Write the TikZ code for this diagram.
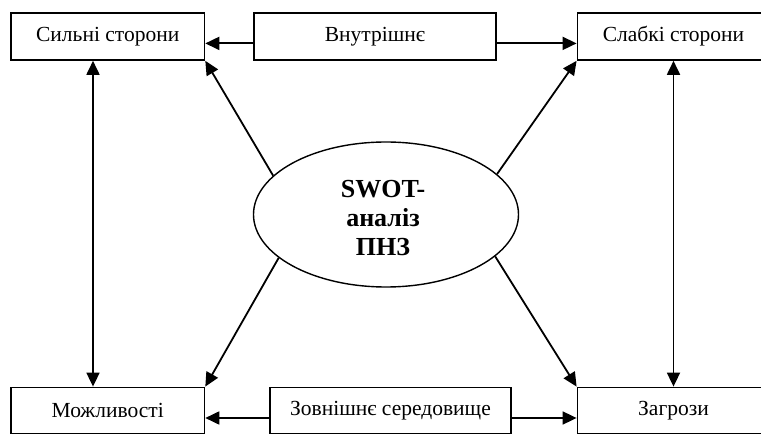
\documentclass[tikz,border=0pt]{standalone}
\usepackage{fontspec}
\setmainfont{Liberation Serif}
\usetikzlibrary{arrows.meta,shapes.geometric}
\begin{document}
\begin{tikzpicture}[x=1pt,y=-1pt,
  box/.style={draw,line width=1.8pt,minimum width=#1,minimum height=47pt,inner sep=0pt,
    font=\fontsize{21.5}{24}\selectfont},
  conn/.style={line width=1.8pt,-{Triangle[length=14pt,width=13pt]}},
  dconn/.style={line width=1.8pt,{Triangle[length=14pt,width=13pt]}-{Triangle[length=14pt,width=13pt]}}]
\useasboundingbox (0,0) rectangle (761,435);
\node[box=193.4pt] (S) at (107.7,36.4) {Сильні сторони};
\node[box=242pt] (Vn) at (375,36.4) {Внутрішнє};
\node[box=192pt] (W) at (673.5,36.4) {Слабкі сторони};
\node[box=193.4pt,minimum height=46pt] (M) at (107.7,410.5) {Можливості};
\node[box=241pt,minimum height=46pt] (Z) at (390.5,410.5) {Зовнішнє середовище};
\node[box=192pt,minimum height=46pt] (T) at (673.5,410.5) {Загрози};
\node[draw,ellipse,line width=1.4pt,minimum width=265pt,minimum height=145pt,inner sep=0pt] (E) at (386,214.5) {};
\node[align=center,inner sep=0pt,font=\bfseries\fontsize{26}{29}\selectfont] (Et) at (383,218.5) {SWOT-\\аналіз\\ПНЗ};
% horizontal arrows
\draw[conn] ([yshift=-7pt]Vn.west) -- ([yshift=-7pt]S.east);
\draw[conn] ([yshift=-7pt]Vn.east) -- ([yshift=-7pt]W.west);
\draw[conn] ([yshift=-7.5pt]Z.west) -- ([yshift=-7.5pt]M.east);
\draw[conn] ([yshift=-7.5pt]Z.east) -- ([yshift=-7.5pt]T.west);
% vertical arrows
\draw[dconn] ([xshift=-14.7pt]S.south) -- ([xshift=-14.7pt]M.north);
\draw[dconn] (W.south) -- (T.north);
% diagonal arrows
\draw[conn] (E.161) -- (S.south east);
\draw[conn] (E.20) -- (W.south west);
\draw[conn] (E.202) -- (M.north east);
\draw[conn] (E.-21) -- (T.north west);
\end{tikzpicture}
\end{document}
